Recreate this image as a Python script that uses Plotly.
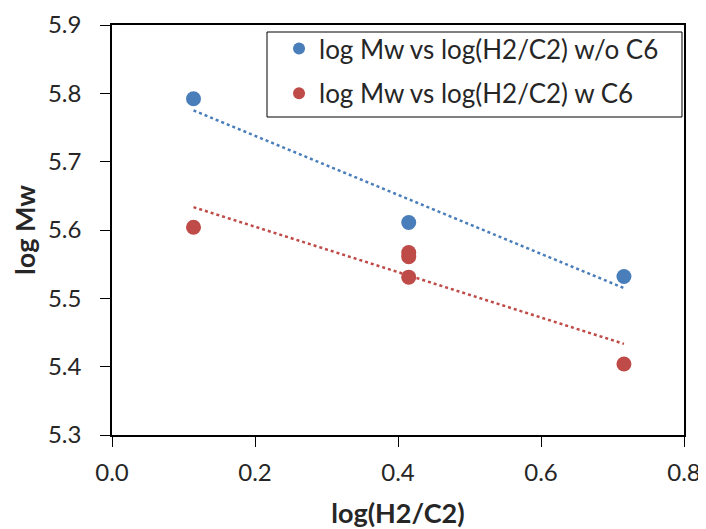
import numpy as np
import plotly.graph_objects as go

# Data
x_wo = [0.114, 0.415, 0.716]
y_wo = [5.792, 5.611, 5.532]
x_w = [0.114, 0.415, 0.415, 0.415, 0.716]
y_w = [5.604, 5.567, 5.561, 5.531, 5.404]
name_wo = "log Mw vs log(H2/C2) w/o C6"
name_w = "log Mw vs log(H2/C2) w C6"
x_ticks = [0.0, 0.2, 0.4, 0.6, 0.8]
y_ticks = [5.3, 5.4, 5.5, 5.6, 5.7, 5.8, 5.9]

blue = "#4A7EBB"
red = "#BE4B48"
FONT = "Lato"

def trend(xs, ys):
    k, b = np.polyfit(xs, ys, 1)
    xx = [min(xs), max(xs)]
    return xx, [k * v + b for v in xx]

fig = go.Figure()
tx, ty = trend(x_wo, y_wo)
fig.add_trace(go.Scatter(x=tx, y=ty, mode="lines", showlegend=False,
                         line=dict(color=blue, width=2.5, dash="dot"), hoverinfo="skip"))
tx, ty = trend(x_w, y_w)
fig.add_trace(go.Scatter(x=tx, y=ty, mode="lines", showlegend=False,
                         line=dict(color=red, width=2.5, dash="dot"), hoverinfo="skip"))
fig.add_trace(go.Scatter(x=x_wo, y=y_wo, mode="markers", name=name_wo, legendgroup="a",
                         marker=dict(color=blue, size=15)))
fig.add_trace(go.Scatter(x=x_w, y=y_w, mode="markers", name=name_w, legendgroup="b",
                         marker=dict(color=red, size=15)))

axis_common = dict(showline=True, linecolor="#000000", linewidth=1.5, mirror=True,
                   ticks="outside", ticklen=10, tickwidth=1.2, tickcolor="#000000",
                   showgrid=False, zeroline=False, automargin=False,
                   tickfont=dict(family=FONT, size=24, color="#262626"))

# The page body has a default 8px margin, so the figure is sized to compensate
fig.update_layout(
    width=698, height=521,
    margin=dict(l=104, r=22, t=17, b=94),
    paper_bgcolor="white", plot_bgcolor="white",
    font=dict(family=FONT, color="#262626"),
    xaxis=dict(range=[0, 0.8], tickvals=x_ticks, ticktext=[f"{v:.1f}" for v in x_ticks],
               title=dict(text="<b>log(H2/C2)</b>", font=dict(family=FONT, size=27, color="#262626"), standoff=22),
               ticklabelstandoff=5, **axis_common),
    yaxis=dict(range=[5.3, 5.9], tickvals=y_ticks, ticktext=[f"{v:.1f}" for v in y_ticks],
               title=dict(text="<b>log Mw</b>", font=dict(family=FONT, size=27, color="#262626"), standoff=19),
               ticklabelstandoff=14, **axis_common),
    legend=dict(x=0.292, y=1.0, xanchor="left", yanchor="top",
                borderwidth=0, bgcolor="rgba(0,0,0,0)",
                font=dict(family=FONT, size=26, color="#262626"),
                tracegroupgap=8, itemsizing="constant"),
    shapes=[dict(type="rect", xref="paper", yref="paper",
                 x0=0.271, x1=0.9965, y0=0.7756, y1=0.9829,
                 line=dict(color="#000000", width=1), fillcolor="white", layer="below")],
)

fig.write_html("out.html")
